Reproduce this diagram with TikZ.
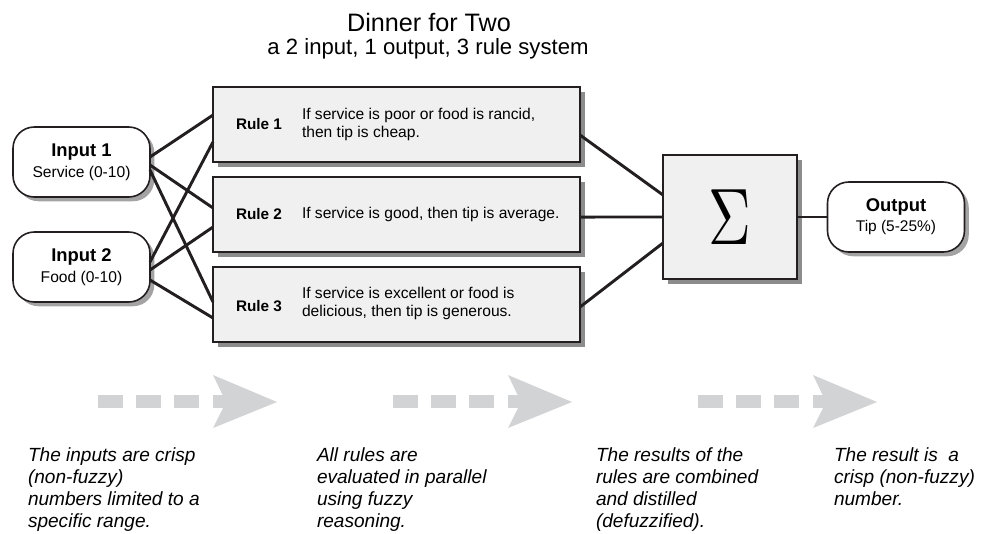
\documentclass[tikz,border=0pt]{standalone}
\usepackage{fontspec}
\setmainfont{Liberation Sans}
\usetikzlibrary{shadows}
\definecolor{inkline}{HTML}{231F20}
\definecolor{boxfill}{HTML}{F0F0F0}
\definecolor{shadowgray}{HTML}{8C8C8C}
\definecolor{arrowgray}{HTML}{D1D3D4}
\begin{document}
\begin{tikzpicture}[x=0.75pt,y=-0.75pt,inner sep=0pt,outer sep=0pt,
inbox/.style={draw=inkline,fill=white,line width=1.2pt,rounded corners=16pt,minimum width=102.75pt,minimum height=52.5pt,align=center,
  drop shadow={shadow xshift=3.2pt,shadow yshift=-3.2pt,fill=shadowgray!80,opacity=1}},
rulebox/.style={draw=inkline,fill=boxfill,line width=1pt,minimum width=275.25pt,minimum height=56.25pt,
  drop shadow={shadow xshift=3.75pt,shadow yshift=-3.75pt,fill=shadowgray,opacity=1}},
sumbox/.style={draw=inkline,fill=boxfill,line width=1pt,minimum width=100.5pt,minimum height=93pt,
  drop shadow={shadow xshift=3.75pt,shadow yshift=-3.75pt,fill=shadowgray,opacity=1}},
rulelabel/.style={anchor=west,font=\fontsize{11.5pt}{13.5pt}\selectfont\bfseries},
ruletext/.style={anchor=west,align=left,font=\fontsize{11.7pt}{13.5pt}\selectfont},
caption/.style={anchor=north west,align=left,font=\fontsize{14.3pt}{16.5pt}\selectfont\itshape},
wire/.style={draw=inkline,line width=2.2pt}]
\useasboundingbox (0,0) rectangle (986,533);
% title
\draw (429,22) node[font=\fontsize{18.9pt}{22pt}\selectfont] (title) {Dinner for Two};
\draw (428,49) node[font=\fontsize{16.6pt}{20pt}\selectfont] (subtitle) {a 2 input, 1 output, 3 rule system};
% inputs and rules
\draw (81.5,162) node[inbox,font=\fontsize{11.7pt}{15.75pt}\selectfont] (in1) {{\fontsize{13.8pt}{15.75pt}\selectfont\bfseries Input 1}\\Service (0-10)};
\draw (81.5,267) node[inbox,font=\fontsize{11.7pt}{15.75pt}\selectfont] (in2) {{\fontsize{13.8pt}{15.75pt}\selectfont\bfseries Input 2}\\Food (0-10)};
\draw (396.5,124.5) node[rulebox] (r1) {};
\draw (396.5,214.5) node[rulebox] (r2) {};
\draw (396.5,304.5) node[rulebox] (r3) {};
\draw ([xshift=17.25pt]r1.west) node[rulelabel] (r1lbl) {Rule 1};
\draw ([xshift=66.75pt]r1.west) node[ruletext] (r1txt) {If service is poor or food is rancid,\\then tip is cheap.};
\draw ([xshift=17.25pt]r2.west) node[rulelabel] (r2lbl) {Rule 2};
\draw ([xshift=66.75pt]r2.west) node[ruletext] (r2txt) {If service is good, then tip is average.};
\draw ([xshift=17.25pt,yshift=-1pt]r3.west) node[rulelabel] (r3lbl) {Rule 3};
\draw ([xshift=66.75pt,yshift=1pt]r3.west) node[ruletext] (r3txt) {If service is excellent or food is\\delicious, then tip is generous.};
% sum and output
\draw (730,217) node[sumbox] (sig) {\resizebox{32pt}{41pt}{$\Sigma$}};
\draw (896,217) node[inbox,font=\fontsize{11.6pt}{15pt}\selectfont] (out) {{\fontsize{13.8pt}{15pt}\selectfont\bfseries Output}\\Tip (5-25\%)};
% wires
\draw[wire] ([yshift=3.75pt]in1.east) -- ([yshift=7.1pt]r1.west);
\draw[wire] ([yshift=-2.25pt]in1.east) -- ([yshift=4.9pt]r2.west);
\draw[wire] ([yshift=-6pt]in1.east) -- ([yshift=1.9pt]r3.west);
\draw[wire] ([yshift=3.75pt]in2.east) -- ([yshift=-13.1pt]r1.west);
\draw[wire] ([yshift=-2.25pt]in2.east) -- ([yshift=-9.4pt]r2.west);
\draw[wire] ([yshift=-9.75pt]in2.east) -- ([yshift=-10.1pt]r3.west);
\draw[wire] ([yshift=-7.9pt]r1.east) -- ([yshift=16.5pt]sig.west);
\draw[wire] ([yshift=-1.9pt]r2.east) -- (sig.west);
\draw[wire] ([yshift=-1.9pt]r3.east) -- ([yshift=-19.5pt]sig.west);
\draw[wire] (sig.east) -- (out.west);
% gray flow arrows
\foreach \o in {0,295,600} {
  \foreach \d in {98,136,174}
    \fill[arrowgray] (\d+\o,395) rectangle (\d+\o+25,408);
  \fill[arrowgray] (213+\o,395) rectangle (226+\o,408);
  \fill[arrowgray] (213+\o,375) -- (277+\o,402) -- (213+\o,428) -- (226+\o,402) -- cycle;
}
% captions
\draw (28,448) node[caption] (cap1) {The inputs are crisp\\(non-fuzzy)\\numbers limited to a\\specific range.};
\draw (317,448) node[caption] (cap2) {All rules are\\evaluated in parallel\\using fuzzy\\reasoning.};
\draw (596,448) node[caption] (cap3) {The results of the\\rules are combined\\and distilled\\(defuzzified).};
\draw (834,448) node[caption] (cap4) {The result is \ a\\crisp (non-fuzzy)\\number.};
\end{tikzpicture}
\end{document}
